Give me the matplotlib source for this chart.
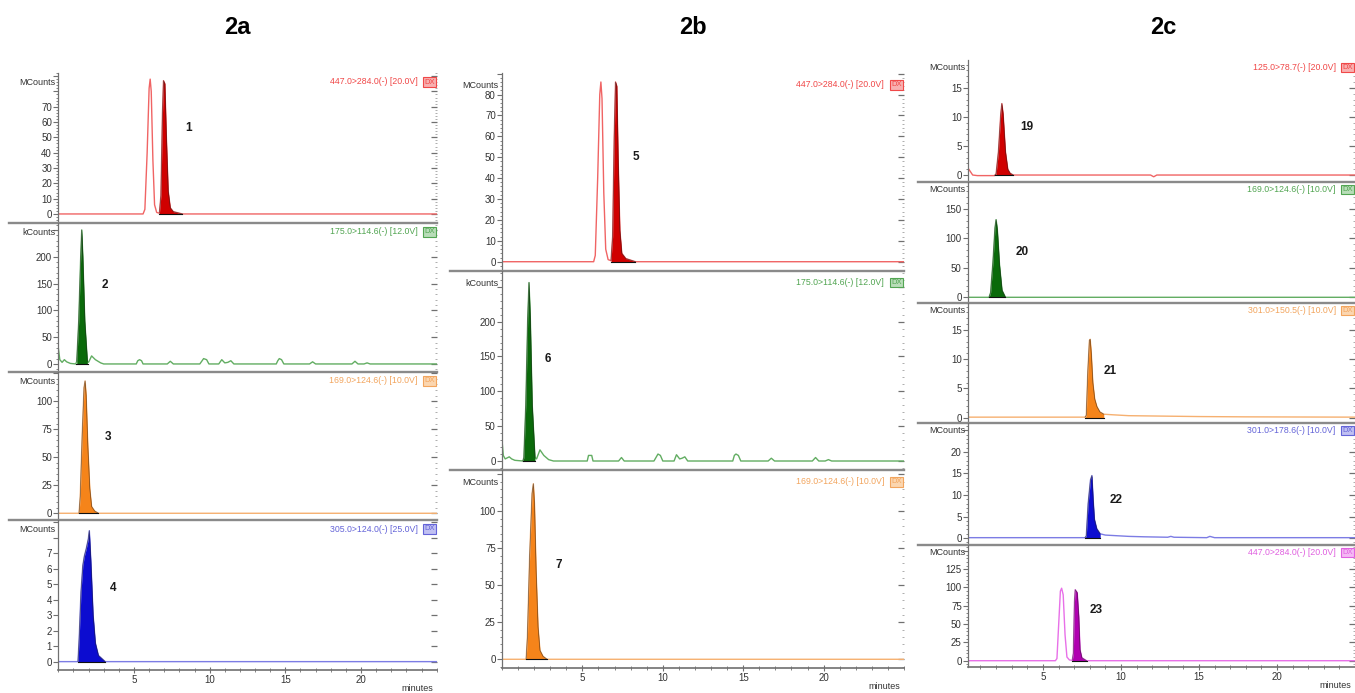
import numpy as np
import matplotlib.pyplot as plt
from matplotlib.ticker import MultipleLocator, AutoMinorLocator, FuncFormatter, FixedLocator

plt.rcParams['font.family'] = ['Liberation Sans', 'DejaVu Sans']

# ---- chromatogram traces (time in minutes, intensity) ----
# 2a
t_a1 = [0, 5.6, 5.72, 5.87, 6.0, 6.07, 6.14, 6.25, 6.36, 6.5, 6.68, 6.78, 6.88, 6.95, 7.04, 7.14, 7.26, 7.4, 7.6, 8.2, 25]
y_a1 = [0, 0, 3, 40, 82, 88, 80, 35, 6, 1, 0.5, 12, 65, 87, 85, 50, 15, 4, 1.5, 0, 0]

t_a2 = [0, 0.1, 0.25, 0.4, 0.55, 0.8, 1.15, 1.22, 1.35, 1.48, 1.55, 1.62, 1.75, 1.92, 2.0, 2.2, 2.45, 2.8, 3.0,
        5.15, 5.25, 5.37, 5.5, 5.6, 7.2, 7.4, 7.6, 9.35, 9.5, 9.6, 9.8, 9.95, 10.6, 10.8, 11.0, 11.2, 11.4, 11.6,
        14.4, 14.5, 14.6, 14.75, 14.9, 16.6, 16.8, 17.0, 19.4, 19.6, 19.8, 20.2, 20.4, 20.6, 25]
y_a2 = [30, 8, 3, 8, 4, 1, 0, 5, 80, 200, 250, 200, 80, 5, 3, 15, 8, 2, 0,
        0, 6, 8, 6, 0, 0, 5, 0, 0, 6, 10, 8, 0, 0, 8, 2, 3, 6, 0,
        0, 6, 10, 8, 0, 0, 4, 0, 0, 5, 0, 0, 2, 0, 0]

t_a3 = [0, 1.37, 1.45, 1.58, 1.7, 1.77, 1.84, 1.95, 2.08, 2.2, 2.4, 2.65, 25]
y_a3 = [0, 0, 15, 70, 112, 118, 105, 60, 22, 6, 2, 0, 0]

t_a4 = [0, 1.3, 1.38, 1.5, 1.62, 1.72, 1.85, 1.98, 2.05, 2.15, 2.3, 2.45, 2.65, 3.1, 25]
y_a4 = [0, 0, 1.5, 4.5, 6.2, 6.8, 7.3, 7.9, 8.45, 6.5, 3.0, 1.2, 0.4, 0, 0]

# 2b
t_b5 = [0, 5.7, 5.8, 5.95, 6.08, 6.15, 6.22, 6.33, 6.45, 6.6, 6.78, 6.88, 6.98, 7.06, 7.14, 7.22, 7.33, 7.45, 7.7, 8.3, 25]
y_b5 = [0, 0, 3, 40, 80, 86, 78, 33, 6, 1, 0.5, 12, 60, 86, 84, 50, 15, 4, 1.5, 0, 0]

t_b6 = [0, 0.08, 0.2, 0.45, 0.6, 0.8, 1.3, 1.36, 1.48, 1.6, 1.68, 1.76, 1.88, 2.05, 2.15, 2.36, 2.6, 2.9, 3.2,
        5.3, 5.38, 5.47, 5.58, 5.66, 7.25, 7.43, 7.6, 9.45, 9.6, 9.7, 9.85, 10.0, 10.7, 10.85, 11.05, 11.2, 11.37, 11.55,
        14.35, 14.45, 14.55, 14.7, 14.85, 16.55, 16.75, 16.95, 19.3, 19.5, 19.7, 20.1, 20.3, 20.5, 25]
y_b6 = [30, 8, 3, 6, 3, 1, 0, 5, 80, 205, 256, 205, 80, 5, 3, 16, 8, 2, 0,
        0, 8, 8, 8, 0, 0, 5, 0, 0, 6, 10, 8, 0, 0, 9, 3, 4, 6, 0,
        0, 8, 10, 8, 0, 0, 4, 0, 0, 5, 0, 0, 2, 0, 0]

t_b7 = [0, 1.5, 1.58, 1.72, 1.87, 1.95, 2.02, 2.12, 2.24, 2.36, 2.55, 2.8, 25]
y_b7 = [0, 0, 15, 70, 112, 118.7, 105, 60, 22, 6, 2, 0, 0]

# 2c
t_c19 = [0.2, 0.35, 0.5, 0.8, 1.9, 2.0, 2.15, 2.3, 2.37, 2.45, 2.6, 2.75, 2.9, 3.1, 11.9, 12.1, 12.3, 25]
y_c19 = [1.2, 0.6, 0, -0.1, -0.1, 0.2, 4, 10.5, 12.3, 10.5, 4, 1, 0.3, 0, 0, -0.3, 0, 0]

t_c20 = [0.2, 1.55, 1.65, 1.8, 1.93, 2.0, 2.08, 2.22, 2.38, 2.6, 25]
y_c20 = [0, 0, 8, 60, 118, 132, 115, 55, 12, 0, 0]

t_c21 = [0.2, 7.7, 7.78, 7.88, 7.98, 8.03, 8.1, 8.2, 8.32, 8.46, 8.65, 8.9, 9.5, 10.5, 12, 15, 18, 25]
y_c21 = [0.1, 0.1, 0.4, 8, 13.2, 13.4, 11, 6, 3.2, 1.9, 1.0, 0.6, 0.5, 0.35, 0.3, 0.2, 0.15, 0.1]

t_c22 = [0.2, 7.7, 7.78, 7.9, 8.05, 8.14, 8.22, 8.3, 8.45, 8.67, 9.0, 9.5, 10.5, 11.5, 13.0, 13.2, 13.4, 15.5, 15.7, 16.0, 25]
y_c22 = [0.1, 0.1, 0.5, 8, 13.5, 14.5, 9, 4.4, 2.2, 1.0, 0.7, 0.6, 0.4, 0.3, 0.2, 0.4, 0.2, 0.1, 0.4, 0.1, 0.1]

t_c23 = [0.2, 5.8, 5.9, 6.0, 6.12, 6.2, 6.3, 6.42, 6.54, 6.7, 6.88, 6.95, 7.02, 7.07, 7.2, 7.3, 7.38, 7.5, 7.8, 25]
y_c23 = [0, 0, 3, 45, 95, 99, 90, 35, 5, 1, 0.5, 10, 80, 97, 93, 60, 15, 4, 0, 0]

# integrated (filled) peak windows, minutes
fill_a = [(6.68, 8.2), (1.18, 1.95), (1.37, 2.65), (1.3, 3.1)]
fill_b = [(6.78, 8.3), (1.3, 2.05), (1.5, 2.8)]
fill_c = [(1.9, 3.1), (1.55, 2.6), (7.7, 8.9), (7.7, 8.67), (6.88, 7.8)]

channels_a = ['447.0>284.0(-) [20.0V]', '175.0>114.6(-) [12.0V]', '169.0>124.6(-) [10.0V]', '305.0>124.0(-) [25.0V]']
channels_b = ['447.0>284.0(-) [20.0V]', '175.0>114.6(-) [12.0V]', '169.0>124.6(-) [10.0V]']
channels_c = ['125.0>78.7(-) [20.0V]', '169.0>124.6(-) [10.0V]', '301.0>150.5(-) [10.0V]',
              '301.0>178.6(-) [10.0V]', '447.0>284.0(-) [20.0V]']

peak_ids_a = ['1', '2', '3', '4']
peak_ids_b = ['5', '6', '7']
peak_ids_c = ['19', '20', '21', '22', '23']
units_a = ['MCounts', 'kCounts', 'MCounts', 'MCounts']
units_b = ['MCounts', 'kCounts', 'MCounts']
units_c = ['MCounts'] * 5
time_ticks = [5, 10, 15, 20]

# colour sets: line, fill, text, box face
PAL = {
    'red': ('#f06464', '#d00000', '#f04848', '#f8b0b0'),
    'green': ('#62ad62', '#0a6a0a', '#52a552', '#b8ddb8'),
    'orange': ('#f6b070', '#f5841a', '#f2a55e', '#fbd6b0'),
    'blue': ('#7c7ce4', '#0c0cd0', '#6464d8', '#c0c0f2'),
    'magenta': ('#e870e8', '#b000b0', '#e060e0', '#f4b8f4'),
}

W, H = 1355, 693
fig = plt.figure(figsize=(W / 100, H / 100), dpi=100)

GRAY = '#707070'


def panel(left, right, top, bot, xmin, t, y, win, ylim, step, lab_max, unit, chan, col,
          pid, pid_xy, bottom, minor=5):
    ax = fig.add_axes([left / W, 1 - bot / H, (right - left) / W, (bot - top) / H])
    line, fill, tcol, box = PAL[col]
    t = np.asarray(t, float)
    y = np.asarray(y, float)
    ax.plot(t, y, color=line, lw=1.0, zorder=2)
    m = (t >= win[0]) & (t <= win[1])
    ax.fill_between(t, y, 0, where=m, color=fill, lw=0, zorder=3)
    ax.plot(t[m], y[m], color='#202020', lw=0.5, alpha=0.6, zorder=4)
    ax.plot([win[0], win[1]], [0, 0], color='#101010', lw=0.8, zorder=4)
    ax.set_xlim(xmin, 25)
    ax.set_ylim(*ylim)
    ax.patch.set_alpha(0)

    for s in ['top', 'right']:
        ax.spines[s].set_visible(False)
    ax.spines['left'].set_color(GRAY)
    ax.spines['left'].set_linewidth(0.9)

    ax.yaxis.set_major_locator(MultipleLocator(step))
    if minor:
        ax.yaxis.set_minor_locator(AutoMinorLocator(minor))
    ax.yaxis.set_major_formatter(FuncFormatter(
        lambda v, p: '%g' % v if -1e-9 < v <= lab_max + 1e-9 else ''))
    ax.tick_params(axis='y', which='major', length=3.5, width=0.8, color=GRAY,
                   labelsize=7, labelcolor='#333333', pad=1)
    ax.tick_params(axis='y', which='minor', length=1.8, width=0.6, color=GRAY)

    sec = ax.secondary_yaxis('right')
    sec.yaxis.set_major_locator(MultipleLocator(step))
    if minor:
        sec.yaxis.set_minor_locator(AutoMinorLocator(minor))
    sec.spines['right'].set_visible(False)
    sec.tick_params(which='major', direction='in', length=4, width=0.9, color=GRAY, labelright=False)
    sec.tick_params(which='minor', direction='in', length=1.5, width=0.6, color='#a0a0a0')

    if bottom:
        ax.spines['bottom'].set_color(GRAY)
        ax.spines['bottom'].set_linewidth(1.2)
        ax.xaxis.set_major_locator(FixedLocator(time_ticks))
        ax.xaxis.set_minor_locator(MultipleLocator(1))
        ax.tick_params(axis='x', which='major', direction='inout', length=5, width=0.8,
                       color=GRAY, labelsize=7, labelcolor='#333333', pad=1)
        ax.tick_params(axis='x', which='minor', direction='inout', length=3, width=0.6, color=GRAY)
        ax.annotate('minutes', xy=(0.95, 0), xycoords='axes fraction', xytext=(0, -13),
                    textcoords='offset points', ha='center', va='center', fontsize=6.5, color='#333333')
    else:
        ax.spines['bottom'].set_visible(False)
        ax.set_xticks([])
        ax.axhline(ylim[0], xmin=-0.13, xmax=1.0, clip_on=False, color='#8a8a8a', lw=1.7, zorder=5)

    ax.text(-0.008, 0.935, unit, transform=ax.transAxes, ha='right', va='center',
            fontsize=6.5, color='#333333')
    ax.text(0.95, 0.94, chan, transform=ax.transAxes, ha='right', va='center',
            fontsize=6.3, color=tcol)
    ax.text(0.981, 0.94, 'DX', transform=ax.transAxes, ha='center', va='center',
            fontsize=5.5, color=tcol, clip_on=False,
            bbox=dict(boxstyle='square,pad=0.15', fc=box, ec=tcol, lw=0.8))
    ax.text(pid_xy[0], pid_xy[1], pid, ha='center', va='center', fontsize=8.5,
            fontweight='bold', color='#1a1a1a', zorder=6)
    return ax


# ---- column 2a ----
rows_a = [73, 223, 372, 520, 670]
traces_a = [(t_a1, y_a1), (t_a2, y_a2), (t_a3, y_a3), (t_a4, y_a4)]
ylims_a = [(-5.9, 92), (-15, 263), (-6, 126), (-0.54, 9.14)]
steps_a = [(10, 70), (50, 200), (25, 100), (1, 7)]
cols_a = ['red', 'green', 'orange', 'blue']
pid_pos_a = [(8.6, 56), (3.1, 147), (3.3, 68), (3.63, 4.75)]
for i in range(4):
    panel(58.3, 436.7, rows_a[i], rows_a[i + 1], 0, traces_a[i][0], traces_a[i][1], fill_a[i],
          ylims_a[i], steps_a[i][0], steps_a[i][1], units_a[i], channels_a[i], cols_a[i],
          peak_ids_a[i], pid_pos_a[i], i == 3, minor=0 if i == 3 else 5)

# ---- column 2b ----
rows_b = [73, 270.7, 470, 668.3]
traces_b = [(t_b5, y_b5), (t_b6, y_b6), (t_b7, y_b7)]
ylims_b = [(-4.3, 90.3), (-12.9, 273), (-6.1, 128)]
steps_b = [(10, 80), (50, 200), (25, 100)]
cols_b = ['red', 'green', 'orange']
pid_pos_b = [(8.32, 50), (2.86, 146), (3.54, 64)]
for i in range(3):
    panel(502, 904, rows_b[i], rows_b[i + 1], 0, traces_b[i][0], traces_b[i][1], fill_b[i],
          ylims_b[i], steps_b[i][0], steps_b[i][1], units_b[i], channels_b[i], cols_b[i],
          peak_ids_b[i], pid_pos_b[i], i == 2)

# ---- column 2c ----
rows_c = [60, 182, 303, 423, 545, 667]
traces_c = [(t_c19, y_c19), (t_c20, y_c20), (t_c21, y_c21), (t_c22, y_c22), (t_c23, y_c23)]
ylims_c = [(-1.2, 19.8), (-9.7, 196), (-0.9, 19.6), (-1.6, 26.7), (-8.6, 158)]
steps_c = [(5, 15), (50, 150), (5, 15), (5, 20), (25, 125)]
cols_c = ['red', 'green', 'orange', 'blue', 'magenta']
pid_pos_c = [(4.0, 8.3), (3.67, 77), (9.31, 8.0), (9.7, 8.8), (8.42, 69)]
for i in range(5):
    panel(968, 1355, rows_c[i], rows_c[i + 1], 0.2, traces_c[i][0], traces_c[i][1], fill_c[i],
          ylims_c[i], steps_c[i][0], steps_c[i][1], units_c[i], channels_c[i], cols_c[i],
          peak_ids_c[i], pid_pos_c[i], i == 4)

for label, xc in [('2a', 237), ('2b', 693), ('2c', 1163)]:
    fig.text(xc / W, 1 - 28 / H, label, ha='center', va='center', fontsize=17, fontweight='bold')

fig.savefig('out.png', dpi=100)
